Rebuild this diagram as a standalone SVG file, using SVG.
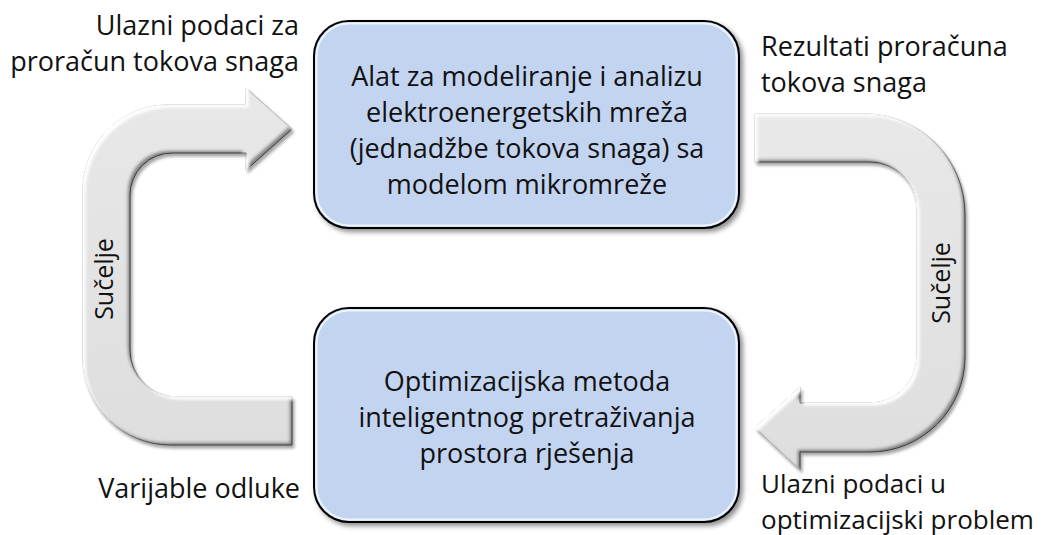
<svg xmlns="http://www.w3.org/2000/svg" width="1046" height="535" viewBox="0 0 1046 535">
<style>
  text { font-family: "Open Sans", "Noto Sans", "DejaVu Sans", sans-serif; font-size: 27px; fill: #111; }
  .c { text-anchor: middle; }
  .r { text-anchor: end; }
  .rot { font-size: 25px; }
  .sm { font-size: 26px; }
  .box { fill: #c3d4f1; stroke: #000; stroke-width: 2; filter: url(#boxshadow); }
  .hl { fill: none; stroke: #eef3fc; stroke-width: 2; }
  .arrow { fill: url(#grey); stroke: #6e6e6e; stroke-width: 1; filter: url(#bevel); }
</style>
<defs>
  <linearGradient id="grey" x1="0" y1="0" x2="0" y2="1">
    <stop offset="0" stop-color="#e8e8e8"/>
    <stop offset="1" stop-color="#dedede"/>
  </linearGradient>
  <filter id="boxshadow" x="-10%" y="-10%" width="125%" height="125%">
    <feGaussianBlur in="SourceAlpha" stdDeviation="2.5" result="b"/>
    <feOffset in="b" dx="3" dy="3" result="o"/>
    <feFlood flood-color="#000" flood-opacity="0.45"/>
    <feComposite in2="o" operator="in" result="sh"/>
    <feMerge><feMergeNode in="sh"/><feMergeNode in="SourceGraphic"/></feMerge>
  </filter>
  <filter id="bevel" x="-10%" y="-10%" width="125%" height="125%">
    <feGaussianBlur in="SourceAlpha" stdDeviation="1.8" result="b"/>
    <feOffset in="b" dx="-3" dy="-3" result="ob1"/>
    <feComposite in="SourceAlpha" in2="ob1" operator="out" result="edgeBR"/>
    <feFlood flood-color="#000" flood-opacity="0.7"/>
    <feComposite in2="edgeBR" operator="in" result="dark"/>
    <feOffset in="b" dx="3" dy="3" result="ob2"/>
    <feComposite in="SourceAlpha" in2="ob2" operator="out" result="edgeTL"/>
    <feFlood flood-color="#fff" flood-opacity="1"/>
    <feComposite in2="edgeTL" operator="in" result="light"/>
    <feOffset in="b" dx="2" dy="3" result="so"/>
    <feFlood flood-color="#000" flood-opacity="0.35"/>
    <feComposite in2="so" operator="in" result="drop"/>
    <feMerge><feMergeNode in="drop"/><feMergeNode in="SourceGraphic"/><feMergeNode in="dark"/><feMergeNode in="light"/></feMerge>
  </filter>
</defs>

<g id="connectors">
  <g id="arrow-left">
    <path class="arrow" d="M292,445 L170,445 A87,87 0 0 1 83,358 L83,190 A85,85 0 0 1 168,105 L246,105 L246,88 L292,129 L246,170 L246,153 L172,153 A42,42 0 0 0 130,195 L130,350 A47,47 0 0 0 177,397 L292,397 Z"/>
    <text class="c rot" transform="translate(113,279) rotate(-90)">Sučelje</text>
  </g>
  <g id="arrow-right">
    <path class="arrow" d="M755,114 L865,114 A100,100 0 0 1 965,214 L965,357 A95,95 0 0 1 870,452 L800,452 L800,470 L755,428 L800,387 L800,403 L870,403 A47,47 0 0 0 917,356 L917,209 A47,47 0 0 0 870,162 L755,162 Z"/>
    <text class="c rot" transform="translate(950,283) rotate(-90)">Sučelje</text>
  </g>
</g>

<g id="node-tool">
  <rect class="box" x="314" y="21" width="425" height="207" rx="35"/>
  <rect class="hl" x="316.5" y="23.5" width="420" height="202" rx="33"/>
  <text class="c" x="527" y="86">Alat za modeliranje i analizu</text>
  <text class="c" x="527" y="122">elektroenergetskih mreža</text>
  <text class="c" x="527" y="158">(jednadžbe tokova snaga) sa</text>
  <text class="c" x="527" y="194">modelom mikromreže</text>
</g>

<g id="node-opt">
  <rect class="box" x="314" y="308" width="425" height="214" rx="35"/>
  <rect class="hl" x="316.5" y="310.5" width="420" height="209" rx="33"/>
  <text class="c" x="527" y="391">Optimizacijska metoda</text>
  <text class="c" x="527" y="427">inteligentnog pretraživanja</text>
  <text class="c" x="527" y="463">prostora rješenja</text>
</g>

<g id="labels">
  <text class="r" x="299" y="35">Ulazni podaci za</text>
  <text class="r" x="299" y="71">proračun tokova snaga</text>
  <text x="761" y="56">Rezultati proračuna</text>
  <text x="761" y="92">tokova snaga</text>
  <text class="r" x="300" y="498">Varijable odluke</text>
  <text class="sm" x="761" y="493">Ulazni podaci u</text>
  <text class="sm" x="761" y="529">optimizacijski problem</text>
</g>
</svg>
